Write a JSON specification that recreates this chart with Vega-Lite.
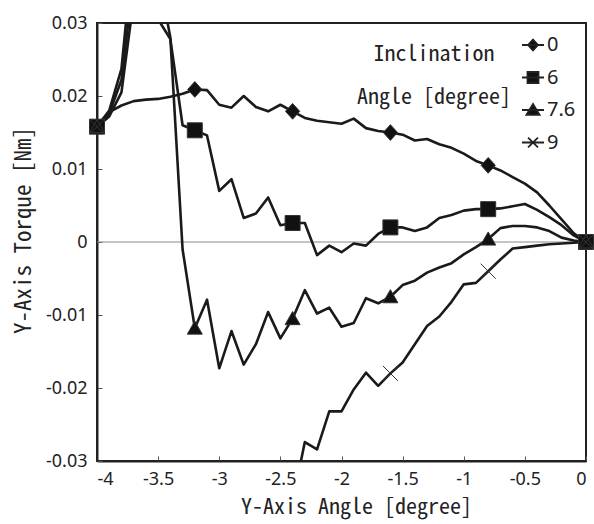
{
  "$schema": "https://vega.github.io/schema/vega-lite/v6.json",
  "width": 489,
  "height": 438,
  "autosize": {"type": "none"},
  "padding": {"left": 97, "top": 23, "right": 8, "bottom": 63},
  "background": "white",
  "config": {
    "view": {"stroke": "#222", "strokeWidth": 2},
    "axis": {
      "labelFont": "Noto Sans",
      "labelFontSize": 18,
      "labelColor": "#222",
      "titleFont": "Noto Sans Mono CJK JP",
      "titleFontWeight": "normal",
      "titleColor": "#222",
      "domainColor": "#222",
      "domainWidth": 2,
      "tickColor": "#555",
      "tickWidth": 1,
      "tickSize": -5,
      "grid": false
    }
  },
  "datasets": {
    "torque": [
      {"series": "0", "angle": -4.0, "torque": 0.0158},
      {"series": "0", "angle": -3.9, "torque": 0.0178},
      {"series": "0", "angle": -3.8, "torque": 0.0187},
      {"series": "0", "angle": -3.7, "torque": 0.0193},
      {"series": "0", "angle": -3.6, "torque": 0.0195},
      {"series": "0", "angle": -3.5, "torque": 0.0196},
      {"series": "0", "angle": -3.4, "torque": 0.0199},
      {"series": "0", "angle": -3.3, "torque": 0.0203},
      {"series": "0", "angle": -3.2, "torque": 0.0209},
      {"series": "0", "angle": -3.1, "torque": 0.0208},
      {"series": "0", "angle": -3.0, "torque": 0.0188},
      {"series": "0", "angle": -2.9, "torque": 0.0184},
      {"series": "0", "angle": -2.8, "torque": 0.0200},
      {"series": "0", "angle": -2.7, "torque": 0.0185},
      {"series": "0", "angle": -2.6, "torque": 0.0179},
      {"series": "0", "angle": -2.5, "torque": 0.0188},
      {"series": "0", "angle": -2.4, "torque": 0.0179},
      {"series": "0", "angle": -2.3, "torque": 0.0170},
      {"series": "0", "angle": -2.2, "torque": 0.0166},
      {"series": "0", "angle": -2.1, "torque": 0.0164},
      {"series": "0", "angle": -2.0, "torque": 0.0162},
      {"series": "0", "angle": -1.9, "torque": 0.0169},
      {"series": "0", "angle": -1.8, "torque": 0.0156},
      {"series": "0", "angle": -1.7, "torque": 0.0152},
      {"series": "0", "angle": -1.6, "torque": 0.0150},
      {"series": "0", "angle": -1.5, "torque": 0.0147},
      {"series": "0", "angle": -1.4, "torque": 0.0139},
      {"series": "0", "angle": -1.3, "torque": 0.0141},
      {"series": "0", "angle": -1.2, "torque": 0.0134},
      {"series": "0", "angle": -1.1, "torque": 0.0129},
      {"series": "0", "angle": -1.0, "torque": 0.0121},
      {"series": "0", "angle": -0.9, "torque": 0.0111},
      {"series": "0", "angle": -0.8, "torque": 0.0105},
      {"series": "0", "angle": -0.7, "torque": 0.0098},
      {"series": "0", "angle": -0.6, "torque": 0.0089},
      {"series": "0", "angle": -0.5, "torque": 0.0080},
      {"series": "0", "angle": -0.4, "torque": 0.0068},
      {"series": "0", "angle": -0.3, "torque": 0.0050},
      {"series": "0", "angle": -0.2, "torque": 0.0031},
      {"series": "0", "angle": -0.1, "torque": 0.0012},
      {"series": "0", "angle": 0.0, "torque": 0.0},

      {"series": "6", "angle": -4.0, "torque": 0.0158},
      {"series": "6", "angle": -3.9, "torque": 0.0172},
      {"series": "6", "angle": -3.8, "torque": 0.0205},
      {"series": "6", "angle": -3.7, "torque": 0.0332},
      {"series": "6", "angle": -3.6, "torque": 0.045},
      {"series": "6", "angle": -3.5, "torque": 0.0305},
      {"series": "6", "angle": -3.4, "torque": 0.0278},
      {"series": "6", "angle": -3.3, "torque": 0.0160},
      {"series": "6", "angle": -3.2, "torque": 0.0153},
      {"series": "6", "angle": -3.1, "torque": 0.0146},
      {"series": "6", "angle": -3.0, "torque": 0.0070},
      {"series": "6", "angle": -2.9, "torque": 0.0086},
      {"series": "6", "angle": -2.8, "torque": 0.0033},
      {"series": "6", "angle": -2.7, "torque": 0.0039},
      {"series": "6", "angle": -2.6, "torque": 0.0061},
      {"series": "6", "angle": -2.5, "torque": 0.0023},
      {"series": "6", "angle": -2.4, "torque": 0.0026},
      {"series": "6", "angle": -2.3, "torque": 0.0026},
      {"series": "6", "angle": -2.2, "torque": -0.0018},
      {"series": "6", "angle": -2.1, "torque": -0.0005},
      {"series": "6", "angle": -2.0, "torque": -0.0014},
      {"series": "6", "angle": -1.9, "torque": -0.0002},
      {"series": "6", "angle": -1.8, "torque": -0.0005},
      {"series": "6", "angle": -1.7, "torque": 0.0011},
      {"series": "6", "angle": -1.6, "torque": 0.0020},
      {"series": "6", "angle": -1.5, "torque": 0.0020},
      {"series": "6", "angle": -1.4, "torque": 0.0015},
      {"series": "6", "angle": -1.3, "torque": 0.0020},
      {"series": "6", "angle": -1.2, "torque": 0.0033},
      {"series": "6", "angle": -1.1, "torque": 0.0037},
      {"series": "6", "angle": -1.0, "torque": 0.0043},
      {"series": "6", "angle": -0.9, "torque": 0.0045},
      {"series": "6", "angle": -0.8, "torque": 0.0045},
      {"series": "6", "angle": -0.7, "torque": 0.0046},
      {"series": "6", "angle": -0.6, "torque": 0.0049},
      {"series": "6", "angle": -0.5, "torque": 0.0052},
      {"series": "6", "angle": -0.4, "torque": 0.0044},
      {"series": "6", "angle": -0.3, "torque": 0.0034},
      {"series": "6", "angle": -0.2, "torque": 0.0023},
      {"series": "6", "angle": -0.1, "torque": 0.0009},
      {"series": "6", "angle": 0.0, "torque": 0.0},

      {"series": "7.6", "angle": -4.0, "torque": 0.0158},
      {"series": "7.6", "angle": -3.9, "torque": 0.0176},
      {"series": "7.6", "angle": -3.8, "torque": 0.0222},
      {"series": "7.6", "angle": -3.7, "torque": 0.0362},
      {"series": "7.6", "angle": -3.6, "torque": 0.045},
      {"series": "7.6", "angle": -3.5, "torque": 0.037},
      {"series": "7.6", "angle": -3.4, "torque": 0.0280},
      {"series": "7.6", "angle": -3.3, "torque": -0.0010},
      {"series": "7.6", "angle": -3.2, "torque": -0.0118},
      {"series": "7.6", "angle": -3.1, "torque": -0.0079},
      {"series": "7.6", "angle": -3.0, "torque": -0.0173},
      {"series": "7.6", "angle": -2.9, "torque": -0.0122},
      {"series": "7.6", "angle": -2.8, "torque": -0.0168},
      {"series": "7.6", "angle": -2.7, "torque": -0.0140},
      {"series": "7.6", "angle": -2.6, "torque": -0.0096},
      {"series": "7.6", "angle": -2.5, "torque": -0.0132},
      {"series": "7.6", "angle": -2.4, "torque": -0.0105},
      {"series": "7.6", "angle": -2.3, "torque": -0.0066},
      {"series": "7.6", "angle": -2.2, "torque": -0.0098},
      {"series": "7.6", "angle": -2.1, "torque": -0.0090},
      {"series": "7.6", "angle": -2.0, "torque": -0.0116},
      {"series": "7.6", "angle": -1.9, "torque": -0.0111},
      {"series": "7.6", "angle": -1.8, "torque": -0.0077},
      {"series": "7.6", "angle": -1.7, "torque": -0.0084},
      {"series": "7.6", "angle": -1.6, "torque": -0.0075},
      {"series": "7.6", "angle": -1.5, "torque": -0.0059},
      {"series": "7.6", "angle": -1.4, "torque": -0.0053},
      {"series": "7.6", "angle": -1.3, "torque": -0.0042},
      {"series": "7.6", "angle": -1.2, "torque": -0.0035},
      {"series": "7.6", "angle": -1.1, "torque": -0.0029},
      {"series": "7.6", "angle": -1.0, "torque": -0.0017},
      {"series": "7.6", "angle": -0.9, "torque": -0.0007},
      {"series": "7.6", "angle": -0.8, "torque": 0.0004},
      {"series": "7.6", "angle": -0.7, "torque": 0.0019},
      {"series": "7.6", "angle": -0.6, "torque": 0.0022},
      {"series": "7.6", "angle": -0.5, "torque": 0.0022},
      {"series": "7.6", "angle": -0.4, "torque": 0.0020},
      {"series": "7.6", "angle": -0.3, "torque": 0.0015},
      {"series": "7.6", "angle": -0.2, "torque": 0.0006},
      {"series": "7.6", "angle": -0.1, "torque": 0.0002},
      {"series": "7.6", "angle": 0.0, "torque": 0.0},

      {"series": "9", "run": 1, "angle": -4.0, "torque": 0.0158},
      {"series": "9", "run": 1, "angle": -3.9, "torque": 0.0180},
      {"series": "9", "run": 1, "angle": -3.8, "torque": 0.0237},
      {"series": "9", "run": 1, "angle": -3.7, "torque": 0.0408},
      {"series": "9", "run": 1, "angle": -3.6, "torque": 0.05},
      {"series": "9", "run": 2, "angle": -2.4, "torque": -0.0356},
      {"series": "9", "run": 2, "angle": -2.3, "torque": -0.0274},
      {"series": "9", "run": 2, "angle": -2.2, "torque": -0.0284},
      {"series": "9", "run": 2, "angle": -2.1, "torque": -0.0232},
      {"series": "9", "run": 2, "angle": -2.0, "torque": -0.0232},
      {"series": "9", "run": 2, "angle": -1.9, "torque": -0.0202},
      {"series": "9", "run": 2, "angle": -1.8, "torque": -0.0179},
      {"series": "9", "run": 2, "angle": -1.7, "torque": -0.0197},
      {"series": "9", "run": 2, "angle": -1.6, "torque": -0.0180},
      {"series": "9", "run": 2, "angle": -1.5, "torque": -0.0165},
      {"series": "9", "run": 2, "angle": -1.4, "torque": -0.0140},
      {"series": "9", "run": 2, "angle": -1.3, "torque": -0.0115},
      {"series": "9", "run": 2, "angle": -1.2, "torque": -0.0102},
      {"series": "9", "run": 2, "angle": -1.1, "torque": -0.0082},
      {"series": "9", "run": 2, "angle": -1.0, "torque": -0.0058},
      {"series": "9", "run": 2, "angle": -0.9, "torque": -0.0056},
      {"series": "9", "run": 2, "angle": -0.8, "torque": -0.0040},
      {"series": "9", "run": 2, "angle": -0.7, "torque": -0.0024},
      {"series": "9", "run": 2, "angle": -0.6, "torque": -0.0009},
      {"series": "9", "run": 2, "angle": -0.5, "torque": -0.0007},
      {"series": "9", "run": 2, "angle": -0.4, "torque": -0.0005},
      {"series": "9", "run": 2, "angle": -0.3, "torque": -0.0003},
      {"series": "9", "run": 2, "angle": -0.2, "torque": -0.0002},
      {"series": "9", "run": 2, "angle": -0.1, "torque": -0.0001},
      {"series": "9", "run": 2, "angle": 0.0, "torque": 0.0}
    ]
  },
  "resolve": {"scale": {"shape": "independent"}, "legend": {"shape": "independent"}},
  "layer": [
    {
      "data": {"values": [{"torque": 0}]},
      "mark": {"type": "rule", "color": "#8a8a8a", "strokeWidth": 1},
      "encoding": {
        "y": {"field": "torque", "type": "quantitative", "scale": {"domain": [-0.03, 0.03], "nice": false, "zero": false}}
      }
    },
    {
      "data": {"name": "torque"},
      "mark": {"type": "line", "clip": true, "color": "#1a1a1a", "strokeWidth": 2.6, "strokeJoin": "round"},
      "encoding": {
        "x": {
          "field": "angle", "type": "quantitative",
          "scale": {"domain": [-4, 0], "nice": false, "zero": false},
          "axis": {
            "values": [-4, -3.5, -3, -2.5, -2, -1.5, -1, -0.5, 0],
            "labelExpr": "replace(format(datum.value, '~g'), '\u2212', '-')",
            "labelPadding": 14,
            "title": "Y-Axis Angle [degree]",
            "titleFontSize": 22,
            "titlePadding": 8,
            "titleX": 259
          }
        },
        "y": {
          "field": "torque", "type": "quantitative",
          "scale": {"domain": [-0.03, 0.03], "nice": false, "zero": false},
          "axis": {
            "values": [-0.03, -0.02, -0.01, 0, 0.01, 0.02, 0.03],
            "labelExpr": "replace(format(datum.value, '.2~f'), '\u2212', '-')",
            "labelPadding": 15,
            "title": "Y-Axis Torque [Nm]",
            "titleFontSize": 23,
            "titlePadding": 10,
            "titleY": 207
          }
        },
        "detail": [{"field": "series"}, {"field": "run"}],
        "order": {"field": "angle", "type": "quantitative"}
      }
    },
    {
      "data": {"name": "torque"},
      "transform": [
        {"filter": "round(datum.angle * 10) % 8 === 0 && datum.torque >= -0.03 && datum.torque <= 0.03"}
      ],
      "mark": {"type": "point", "filled": true, "fill": "#111", "stroke": "#333", "strokeWidth": 1, "opacity": 1, "size": 225},
      "encoding": {
        "x": {"field": "angle", "type": "quantitative"},
        "y": {"field": "torque", "type": "quantitative"},
        "shape": {
          "field": "series", "type": "nominal",
          "scale": {
            "domain": ["0", "6", "7.6", "9"],
            "range": [
              "M0,-1.05L0.95,0L0,1.05L-0.95,0Z",
              "M-1,-1H1V1H-1Z",
              "M0,-0.95L1,0.8L-1,0.8Z",
              "M-1,-1L1,1M-1,1L1,-1"
            ]
          },
          "legend": null
        }
      }
    },
    {
      "data": {"name": "torque"},
      "transform": [{"filter": "false"}],
      "mark": {"type": "point", "filled": false, "fill": "#111", "stroke": "#222", "strokeWidth": 1.8, "opacity": 1},
      "encoding": {
        "x": {"field": "angle", "type": "quantitative"},
        "y": {"field": "torque", "type": "quantitative"},
        "shape": {
          "field": "series", "type": "nominal",
          "scale": {
            "domain": ["0", "6", "7.6", "9"],
            "range": [
              "M-1,0H1M0,-0.5L0.45,0L0,0.5L-0.45,0Z",
              "M-1,0H1M-0.5,-0.5H0.5V0.5H-0.5Z",
              "M-1,0H1M0,-0.55L0.6,0.45L-0.6,0.45Z",
              "M-1,0H1M-0.45,-0.45L0.45,0.45M-0.45,0.45L0.45,-0.45"
            ]
          },
          "legend": {
            "title": ["Inclination", "Angle [degree]"],
            "orient": "top-right",
            "offset": 10,
            "padding": 0,
            "titleOrient": "left",
            "titleAnchor": "start",
            "titleAlign": "center",
            "titleBaseline": "line-top",
            "titleFont": "Noto Sans Mono CJK JP",
            "titleFontSize": 22,
            "titleFontWeight": "normal",
            "titleColor": "#222",
            "titleLineHeight": 43,
            "titlePadding": -68,
            "labelFont": "Noto Sans",
            "labelFontSize": 20,
            "labelColor": "#222",
            "labelOffset": 2,
            "symbolSize": 484,
            "symbolStrokeWidth": 1.8,
            "symbolOpacity": 1,
            "rowPadding": 10.5
          }
        }
      }
    }
  ]
}
